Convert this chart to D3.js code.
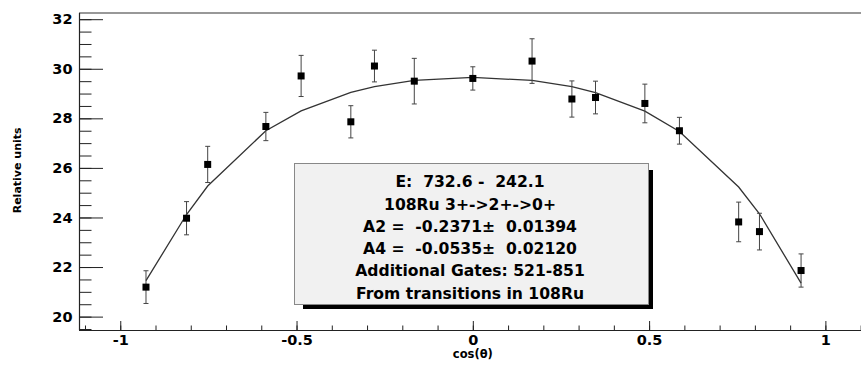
<!DOCTYPE html>
<html>
<head>
<meta charset="utf-8">
<script src="https://cdn.jsdelivr.net/npm/d3@7"></script>
<style>
  html, body { margin: 0; padding: 0; background: #fff; }
  svg { display: block; }
  text { font-family: "DejaVu Sans", "Liberation Sans", Arial, sans-serif; font-weight: bold; fill: #000; }
</style>
</head>
<body>
<svg id="chart" width="861" height="365"></svg>
<script>
// ---- data ----
const cosTheta = [-0.927, -0.812, -0.752, -0.587, -0.487, -0.346, -0.279, -0.166, 0.0,
                  0.168, 0.281, 0.348, 0.488, 0.586, 0.754, 0.813, 0.931];
const relUnits = [21.19, 23.97, 26.14, 27.67, 29.71, 27.86, 30.11, 29.50, 29.61,
                  30.31, 28.78, 28.84, 28.60, 27.50, 23.82, 23.43, 21.86];
const relErrors = [0.66, 0.67, 0.73, 0.57, 0.83, 0.65, 0.64, 0.92, 0.47,
                   0.90, 0.73, 0.66, 0.78, 0.54, 0.80, 0.74, 0.67];
const fitValues = [21.45, 24.12, 25.27, 27.50, 28.30, 29.05, 29.28, 29.53, 29.65,
                   29.53, 29.28, 29.04, 28.29, 27.47, 25.23, 24.15, 21.35];
const xTickValues = [-1, -0.5, 0, 0.5, 1];
const xTickLabels = ["-1", "-0.5", "0", "0.5", "1"];
const yTickValues = [20, 22, 24, 26, 28, 30, 32];
const yTickLabels = ["20", "22", "24", "26", "28", "30", "32"];
const legendLines = [
  "E:  732.6 -  242.1",
  "108Ru 3+->2+->0+",
  "A2 =  -0.2371\u00B1  0.01394",
  "A4 =  -0.0535\u00B1  0.02120",
  "Additional Gates: 521-851",
  "From transitions in 108Ru"
];
const xTitle = "cos(\u03B8)";
const yTitle = "Relative units";

// ---- layout ----
const svg = d3.select("#chart");
const L = 79, R = 861, T = 13, B = 330;
const x = d3.scaleLinear().domain([-1.117, 1.101]).range([L, R]);
const y = d3.scaleLinear().domain([19.46, 32.25]).range([B, T]);
const axisColor = "#222";

// frame (top line)
svg.append("line").attr("x1", L).attr("x2", R + 5).attr("y1", T).attr("y2", T)
  .attr("stroke", "#333").attr("stroke-width", 1.2);

// x minor ticks
const xMinor = d3.range(-11, 12).map(d => d / 10);
svg.append("g").attr("transform", `translate(0,${B})`)
  .call(d3.axisBottom(x).tickValues(xMinor).tickSizeInner(-4.5).tickSizeOuter(0).tickFormat(""))
  .call(g => g.select(".domain").remove())
  .call(g => g.selectAll("line").attr("stroke", axisColor));
// x major
const xAxis = svg.append("g").attr("transform", `translate(0,${B})`)
  .call(d3.axisBottom(x).tickValues(xTickValues).tickSizeInner(-9).tickSizeOuter(0)
    .tickPadding(4.5).tickFormat((d, i) => xTickLabels[i]));
xAxis.select(".domain").attr("stroke", axisColor).attr("stroke-width", 1.2)
  .attr("d", `M${L},0.5H${R + 5}`);
xAxis.selectAll("line").attr("stroke", axisColor);
xAxis.selectAll("text").style("font-size", "14.5px").attr("fill", "#000")
  .style("font-family", '"DejaVu Sans", sans-serif').style("font-weight", "bold");

// y minor ticks
const yMinor = d3.range(39, 65).map(d => d / 2);
svg.append("g").attr("transform", `translate(${L},0)`)
  .call(d3.axisLeft(y).tickValues(yMinor).tickSizeInner(-12.5).tickSizeOuter(0).tickFormat(""))
  .call(g => g.select(".domain").remove())
  .call(g => g.selectAll("line").attr("stroke", axisColor));
// y major
const yAxis = svg.append("g").attr("transform", `translate(${L},0)`)
  .call(d3.axisLeft(y).tickValues(yTickValues).tickSizeInner(-24).tickSizeOuter(0)
    .tickPadding(6.5).tickFormat((d, i) => yTickLabels[i]));
yAxis.select(".domain").attr("stroke", axisColor).attr("stroke-width", 1.2)
  .attr("d", `M0.5,${T}V${B}`);
yAxis.selectAll("line").attr("stroke", axisColor);
yAxis.selectAll("text").style("font-size", "14.5px").attr("fill", "#000")
  .style("font-family", '"DejaVu Sans", sans-serif').style("font-weight", "bold");

// axis titles
svg.append("text").attr("x", x(0)).attr("y", 358)
  .attr("text-anchor", "middle").style("font-size", "11.5px").text(xTitle);
svg.append("text").attr("transform", `translate(21,${y(25.9)}) rotate(-90)`)
  .attr("text-anchor", "middle").style("font-size", "11px").text(yTitle);

// data
const pts = cosTheta.map((c, i) => ({ c, v: relUnits[i], e: relErrors[i], f: fitValues[i] }));

// fit curve
svg.append("path").datum(pts)
  .attr("d", d3.line().x(d => x(d.c)).y(d => y(d.f)))
  .attr("fill", "none").attr("stroke", "#333").attr("stroke-width", 1.3);

// error bars
const eb = svg.append("g").attr("stroke", "#444").attr("stroke-width", 1);
pts.forEach(d => {
  const cx = x(d.c);
  eb.append("line").attr("x1", cx).attr("x2", cx).attr("y1", y(d.v + d.e)).attr("y2", y(d.v - d.e));
  eb.append("line").attr("x1", cx - 2.5).attr("x2", cx + 2.5).attr("y1", y(d.v + d.e)).attr("y2", y(d.v + d.e));
  eb.append("line").attr("x1", cx - 2.5).attr("x2", cx + 2.5).attr("y1", y(d.v - d.e)).attr("y2", y(d.v - d.e));
});

// markers
svg.append("g").selectAll("rect").data(pts).join("rect")
  .attr("x", d => x(d.c) - 3.5).attr("y", d => y(d.v) - 3.5)
  .attr("width", 7).attr("height", 7).attr("fill", "#000");

// legend box with shadow
const bx = 294, by = 163, bw = 354, bh = 141;
svg.append("rect").attr("x", bx + 9).attr("y", by + 7).attr("width", bw - 4).attr("height", bh - 2)
  .attr("fill", "#000");
svg.append("rect").attr("x", bx + 0.5).attr("y", by + 0.5).attr("width", bw).attr("height", bh)
  .attr("fill", "#f1f1f1").attr("stroke", "#888").attr("stroke-width", 1);
svg.append("g").selectAll("text").data(legendLines).join("text")
  .attr("x", 470).attr("y", (d, i) => 187.3 + i * 22.25)
  .attr("text-anchor", "middle").style("font-size", "15.6px")
  .style("white-space", "pre").attr("xml:space", "preserve")
  .text(d => d);
</script>
</body>
</html>
